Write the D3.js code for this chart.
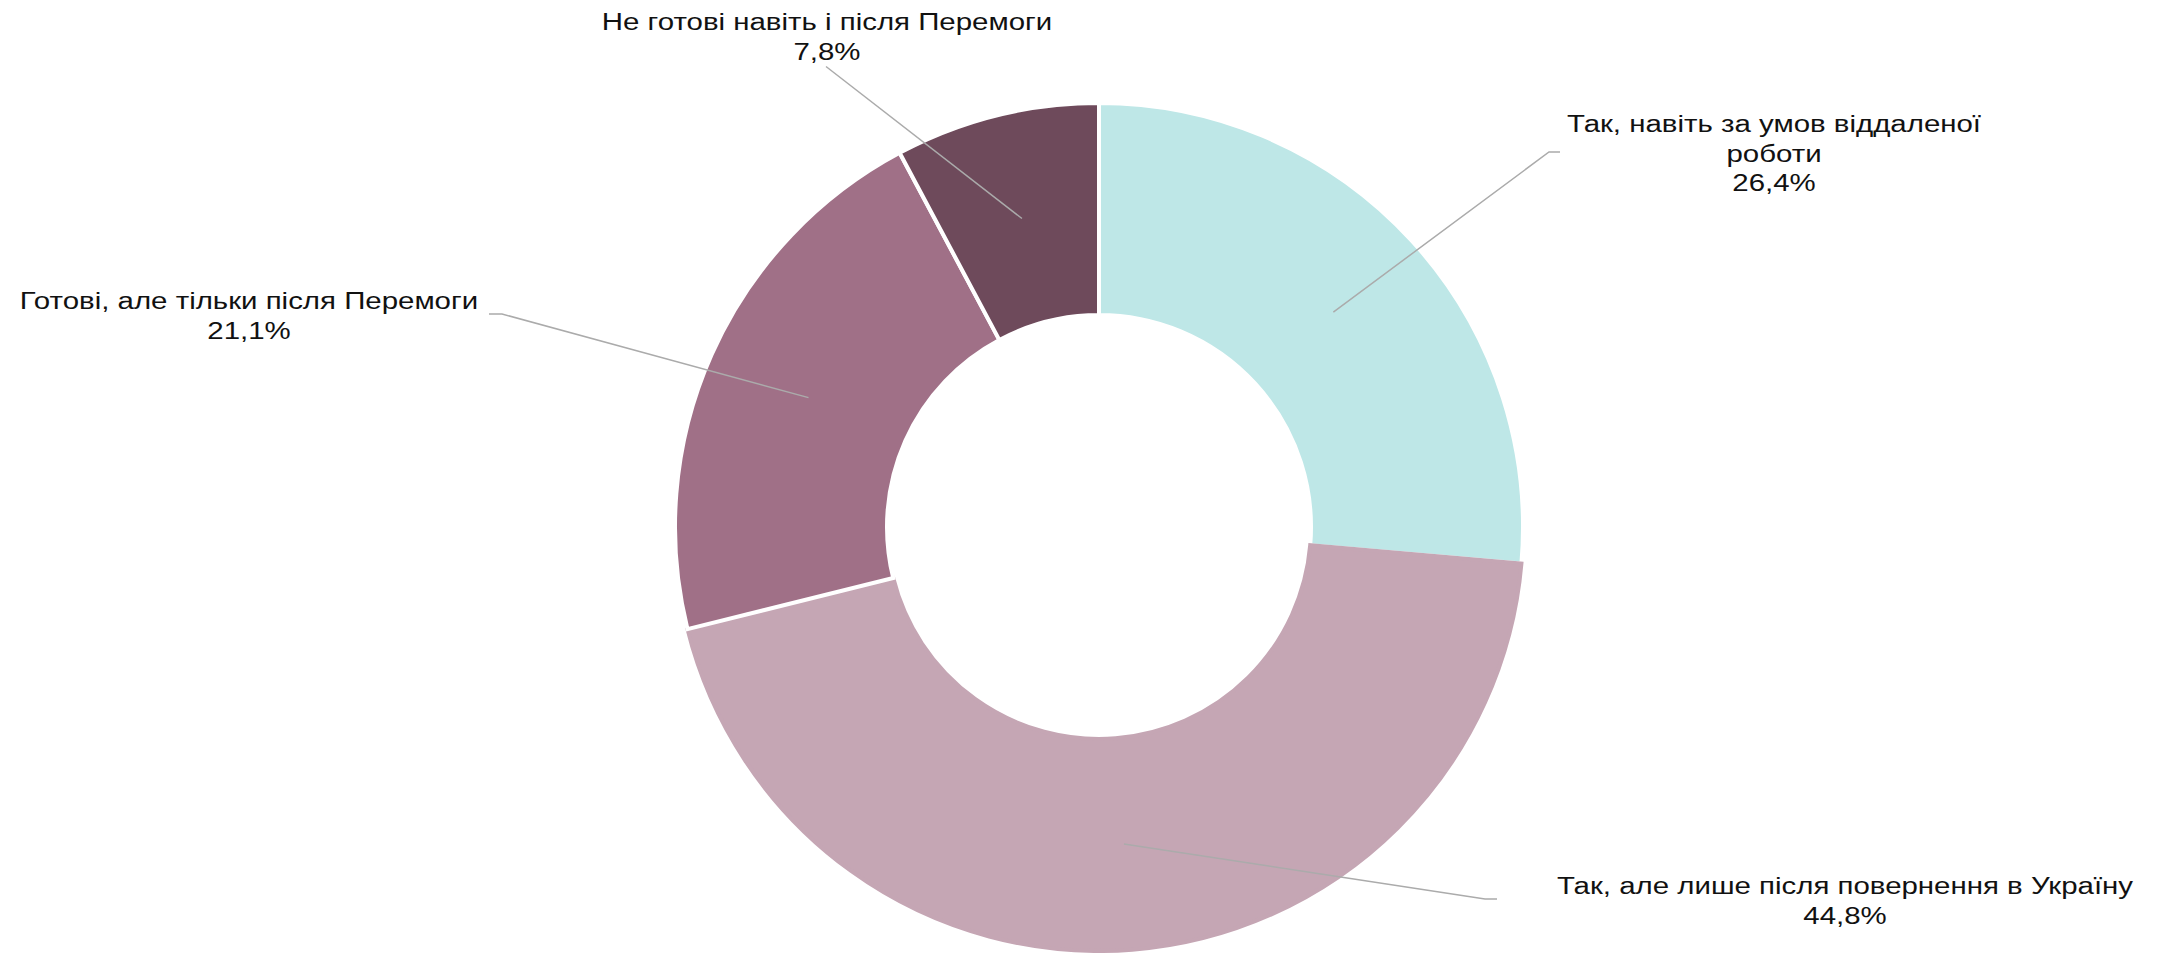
<!DOCTYPE html>
<html>
<head>
<meta charset="utf-8">
<script src="https://cdn.jsdelivr.net/npm/d3@7"></script>
<style>
  html, body { margin: 0; padding: 0; background: #ffffff; }
  svg { display: block; }
  text { font-family: "Liberation Sans", Arial, Helvetica, sans-serif; fill: #111111; }
</style>
</head>
<body>
<svg id="chart" width="2160" height="953"></svg>
<script>
// ---- data ----
const categories = [
  "Так, навіть за умов віддаленої роботи",
  "Так, але лише після повернення в Україну",
  "Готові, але тільки після Перемоги",
  "Не готові навіть і після Перемоги"
];
const values = [26.4, 44.8, 21.1, 7.8];
const labelLines = [
  ["Так, навіть за умов віддаленої", "роботи"],
  ["Так, але лише після повернення в Україну"],
  ["Готові, але тільки після Перемоги"],
  ["Не готові навіть і після Перемоги"]
];
const colors = ["#bee7e7", "#c5a6b4", "#a07087", "#6e4a5b"];

// ---- layout (positions of labels & leader elbows) ----
const cx = 1099, cy = 527, outerR = 424, innerR = 212;
const labelLayout = [
  { x: 1774, y: 132, elbow: [[1549, 152], [1560, 152]] },
  { x: 1845, y: 894, elbow: [[1485, 899], [1497, 899]] },
  { x: 249,  y: 309, elbow: [[502, 314], [489, 314]] },
  { x: 827,  y: 30,  elbow: null }
];
const lineGap = 29.5;
const fontSize = 23;
const stretch = 1.28;

const fmt = v => d3.format(".1f")(v).replace(".", ",") + "%";

const svg = d3.select("#chart");
const g = svg.append("g").attr("transform", `translate(${cx},${cy})`);

const pie = d3.pie().sort(null).value(d => d)(values);
const arc = d3.arc().innerRadius(innerR).outerRadius(outerR);

g.selectAll("path.slice")
  .data(pie)
  .join("path")
  .attr("class", "slice")
  .attr("d", arc)
  .attr("fill", (d, i) => colors[i])
  .attr("stroke", (d, i) => i === 1 ? colors[i] : "#ffffff")
  .attr("stroke-width", 4)
  .attr("stroke-linejoin", "miter");

// leader lines
const lineGen = d3.line();
pie.forEach((d, i) => {
  const c = arc.centroid(d);
  const start = [cx + c[0], cy + c[1]];
  const L = labelLayout[i];
  const nLines = labelLines[i].length + 1;
  let pts;
  if (L.elbow) {
    pts = [start, ...L.elbow];
  } else {
    pts = [start, [L.x - 1, L.y + (nLines - 1) * lineGap + 7]];
  }
  svg.append("path")
    .attr("d", lineGen(pts))
    .attr("fill", "none")
    .attr("stroke", "#ababab")
    .attr("stroke-width", 1.5);
});

// labels
labelLines.forEach((lines, i) => {
  const L = labelLayout[i];
  const all = [...lines, fmt(values[i])];
  all.forEach((t, k) => {
    svg.append("text")
      .attr("transform", `translate(${L.x},${L.y + k * lineGap}) scale(${stretch},1)`)
      .attr("text-anchor", "middle")
      .attr("font-size", fontSize)
      .text(t);
  });
});
</script>
</body>
</html>
